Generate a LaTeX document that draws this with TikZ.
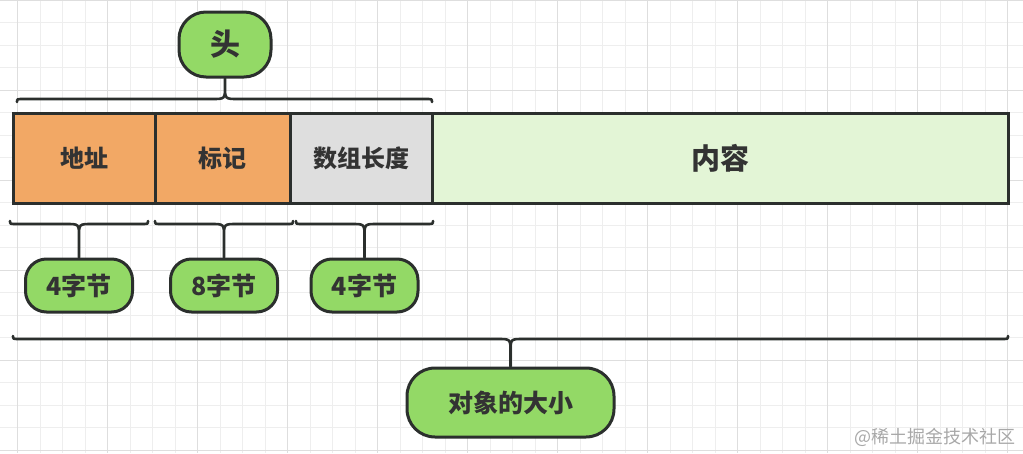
\documentclass[tikz,border=0pt]{standalone}
\usepackage{fontspec}
\newfontfamily\cjk{Noto Sans CJK SC}
\usetikzlibrary{positioning,calc}
\definecolor{gridminor}{HTML}{EEEEEE}
\definecolor{gridmajor}{HTML}{DEDEDE}
\definecolor{ink}{HTML}{2B2F2D}
\definecolor{txt}{HTML}{333333}
\definecolor{hdrorange}{HTML}{F2A865}
\definecolor{lengray}{HTML}{DEDEDE}
\definecolor{bodygreen}{HTML}{E3F5D6}
\definecolor{taggreen}{HTML}{93D966}
\definecolor{wmgray}{HTML}{A8A8A8}

% curly brace: #1,#2 ends, #3 tip, #4 = 1 tip up / -1 tip down
\newcommand{\sizebrace}[4]{%
  \draw[curly] let \p1=(#1), \p2=(#2), \p3=(#3) in
    (\p1) .. controls (\x1,{\y1+#4*3pt}) .. ({\x1+7pt},{\y1+#4*3pt})
      -- ({\x3-13pt},{\y1+#4*3pt}) .. controls (\x3,{\y1+#4*3pt}) .. (\x3,{\y1+#4*16pt})
      -- (\p3)
    (\p2) .. controls (\x2,{\y2+#4*3pt}) .. ({\x2-7pt},{\y2+#4*3pt})
      -- ({\x3+13pt},{\y2+#4*3pt}) .. controls (\x3,{\y2+#4*3pt}) .. (\x3,{\y2+#4*16pt});}

\begin{document}
\begin{tikzpicture}[
    x=1pt, y=-1pt,
    field/.style={draw=ink, text=txt, line width=3pt, outer sep=0pt,
                  minimum height=90pt, inner sep=0pt,
                  font=\cjk\bfseries\fontsize{24}{28}\selectfont},
    tag/.style={draw=ink, fill=taggreen, text=txt, line width=3pt,
                rounded corners=21pt, minimum width=107pt, minimum height=53pt,
                inner sep=0pt, font=\cjk\bfseries\fontsize{25}{29}\selectfont},
    curly/.style={draw=ink, line width=2.6pt, line cap=round},
  ]
  \useasboundingbox (0,0) rectangle (1023,453);

  % Background grid.
  \begin{scope}
    \clip (0,0) rectangle (1023,453);
    \foreach \gx in {-5,17.5,...,1030}
      \draw[gridminor, line width=1pt] (\gx,0) -- (\gx,453);
    \foreach \gy in {0,22.5,...,460}
      \draw[gridminor, line width=1pt] (0,\gy) -- (1023,\gy);
    \foreach \gx in {17.5,107.5,...,1030}
      \draw[gridmajor, line width=1pt] (\gx,0) -- (\gx,453);
    \foreach \gy in {0,90,...,460}
      \draw[gridmajor, line width=1pt] (0,\gy) -- (1023,\gy);
  \end{scope}

  % Object layout.
  \node[field, fill=hdrorange, minimum width=142pt] (addr) at (84,158) {地址};
  \node[field, fill=hdrorange, minimum width=135pt, right=0pt of addr] (mark) {标记};
  \node[field, fill=lengray, minimum width=142pt, right=0pt of mark] (len) {数组长度};
  \node[field, fill=bodygreen, minimum width=576pt, right=0pt of len,
        font=\cjk\bfseries\fontsize{29}{33}\selectfont] (body) {内容};

  % Header label.
  \node[tag, rounded corners=27pt, minimum width=92pt, minimum height=65pt,
        font=\cjk\bfseries\fontsize{30}{34}\selectfont] (head) at (225,44.5) {头};
  \sizebrace{$(addr.north west)+(4,-11)$}{$(len.north east)+(0,-11)$}{head.south}{1}

  % Field sizes.
  \node[tag] (size1) at (79,285.5) {4字节};
  \node[tag] (size2) at (224,285.5) {8字节};
  \node[tag] (size3) at (364.5,285.5) {4字节};
  \sizebrace{$(addr.south west)+(-3,18)$}{$(addr.south east)+(-7,18)$}{size1.north}{-1}
  \sizebrace{$(mark.south west)+(0,18)$}{$(mark.south east)+(3,18)$}{size2.north}{-1}
  \sizebrace{$(len.south west)+(6,18)$}{$(len.south east)+(1,18)$}{size3.north}{-1}

  % Whole object.
  \node[tag, rounded corners=28pt, minimum width=207pt, minimum height=69pt] (total)
    at (510.5,402.5) {对象的大小};
  \sizebrace{$(addr.south west)+(0,133)$}{$(body.south east)+(0,133)$}{total.north}{-1}

  \node[anchor=east, text=wmgray, inner sep=0pt,
        font=\cjk\fontsize{18}{21}\selectfont] (wm) at (1016,437) {@稀土掘金技术社区};
\end{tikzpicture}
\end{document}
